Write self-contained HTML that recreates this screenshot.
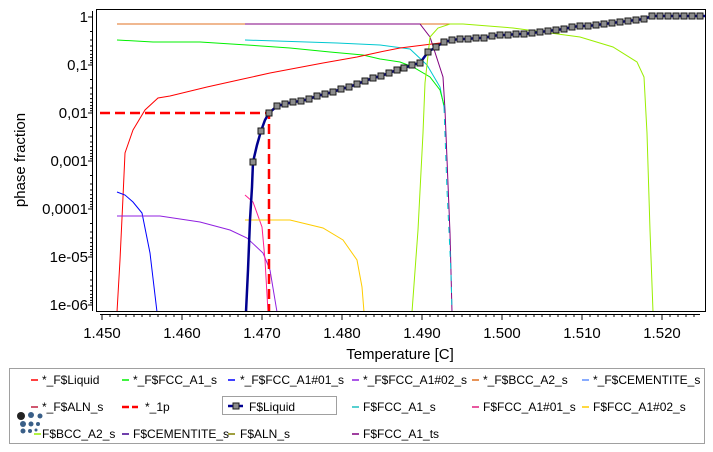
<!DOCTYPE html>
<html><head><meta charset="utf-8"><style>
body{margin:0;background:#fff;width:713px;height:452px;overflow:hidden}
svg{display:block;font-family:"Liberation Sans","DejaVu Sans",sans-serif}
</style></head><body>
<svg width="713" height="452" viewBox="0 0 713 452" xmlns="http://www.w3.org/2000/svg">
<rect x="96.5" y="9.5" width="609" height="302" fill="#fff" stroke="#000"/>
<g stroke="#000" fill="none">
<line x1="92.5" y1="11" x2="92.5" y2="311"/>
<path d="M88 17H93M88 65H93M88 113H93M88 161H93M88 209H93M88 257H93M88 305H93"/>
<path d="M90 31.5H93M90 40H93M90 46H93M90 50.6H93M90 54.4H93M90 57.6H93M90 60.4H93M90 62.8H93
M90 79.5H93M90 88H93M90 94H93M90 98.6H93M90 102.4H93M90 105.6H93M90 108.4H93M90 110.8H93
M90 127.5H93M90 136H93M90 142H93M90 146.6H93M90 150.4H93M90 153.6H93M90 156.4H93M90 158.8H93
M90 175.5H93M90 184H93M90 190H93M90 194.6H93M90 198.4H93M90 201.6H93M90 204.4H93M90 206.8H93
M90 223.5H93M90 232H93M90 238H93M90 242.6H93M90 246.4H93M90 249.6H93M90 252.4H93M90 254.8H93
M90 271.5H93M90 280H93M90 286H93M90 290.6H93M90 294.4H93M90 297.6H93M90 300.4H93M90 302.8H93"/>
<line x1="100" y1="314.5" x2="700" y2="314.5"/>
<path d="M102 314V320M182 314V320M262 314V320M342 314V320M422 314V320M502 314V320M582 314V320M662 314V320"/>
<path d="M110 314V317M118 314V317M126 314V317M134 314V317M142 314V317M150 314V317M158 314V317M166 314V317M174 314V317
M190 314V317M198 314V317M206 314V317M214 314V317M222 314V317M230 314V317M238 314V317M246 314V317M254 314V317
M270 314V317M278 314V317M286 314V317M294 314V317M302 314V317M310 314V317M318 314V317M326 314V317M334 314V317
M350 314V317M358 314V317M366 314V317M374 314V317M382 314V317M390 314V317M398 314V317M406 314V317M414 314V317
M430 314V317M438 314V317M446 314V317M454 314V317M462 314V317M470 314V317M478 314V317M486 314V317M494 314V317
M510 314V317M518 314V317M526 314V317M534 314V317M542 314V317M550 314V317M558 314V317M566 314V317M574 314V317
M590 314V317M598 314V317M606 314V317M614 314V317M622 314V317M630 314V317M638 314V317M646 314V317M654 314V317
M670 314V317M678 314V317M686 314V317M694 314V317"/>
</g>
<g font-size="15" fill="#000" text-anchor="end">
<text x="88" y="22">1</text><text x="88" y="70">0,1</text><text x="88" y="118">0,01</text>
<text x="88" y="166">0,001</text><text x="88" y="214">0,0001</text><text x="88" y="262">1e-05</text><text x="88" y="310">1e-06</text>
</g>
<g font-size="15" fill="#000" text-anchor="middle">
<text x="102" y="338">1.450</text><text x="182" y="338">1.460</text><text x="262" y="338">1.470</text><text x="342" y="338">1.480</text>
<text x="422" y="338">1.490</text><text x="502" y="338">1.500</text><text x="582" y="338">1.510</text><text x="662" y="338">1.520</text>
<text x="400" y="359">Temperature [C]</text>
<text transform="translate(25,160) rotate(-90)">phase fraction</text>
</g>
<svg x="97" y="10" width="608" height="301" viewBox="97 10 608 301" overflow="hidden">
<g fill="none" stroke-width="1">
<polyline stroke="#e07020" points="117,24 451,24"/>
<polyline stroke="#800080" points="245,24 420,24 430,37 443,77 445,110 450,233 452,312"/>
<polyline stroke="#00c8d0" points="245,40 337,43 380,45 410,49 427,65 440,87 444,107"/>
<polyline stroke="#00c8d0" points="444,107 447,190 451,273 452,312" stroke-dasharray="6,6"/>
<polyline stroke="#00f000" points="117,40 153,42 200,42 247,45 290,48 330,52 363,55 380,59 400,62 413,67 430,77 440,90 444,105"/>
<polyline stroke="#ff0000" points="117,312 120,260 123,197 125,153 133,130 145,110 158,98 170,96 207,87 243,79 270,73 323,63 357,57 380,52 400,48 440,43 446,42"/>
<polyline stroke="#99ee00" points="412,312 418,230 423,133 425,83 430,37 438,28 450,24 463,24 513,28 580,37 613,47 637,62 644,77 647,133 650,230 653,312"/>
<polyline stroke="#0000ff" points="117,192 125,195 133,202 142,213 150,253 157,312"/>
<polyline stroke="#9020e0" points="117,216 160,216 200,222 230,230 247,238 263,253 270,270 277,312"/>
<polyline stroke="#ff2090" points="245,195 253,202 262,227 265,260 268,312"/>
<polyline stroke="#ffcc00" points="245,220 290,220 323,228 343,240 357,260 362,287 364,312"/>
<polyline stroke="#000090" stroke-width="2.5" points="246,312 248,270 250,220 252,187 253,162 257,145 261,131 265,120 269,113 277,106 285,104 293,102 301,101 309,99 317,96 325,94 333,92 341,89 349,87 357,84 365,81 373,78 381,76 389,73 397,70 404,68 412,65 420,63 428,52 436,47 444,42 452,40 460,39 468,39 476,38 484,38 492,36 500,35 508,35 516,34 524,34 532,33 540,32 548,31 556,30 564,29 572,27 580,26 588,26 596,25 604,24 612,23 620,22 628,21 636,20 644,19 652,16 705,16"/>
<polyline stroke="#ff0000" stroke-width="2.5" stroke-dasharray="10,5" points="100,113 269,113 269,312"/>
</g>
<g fill="#8c8c8c" stroke="#1a1a1a" stroke-width="1">
<rect x="250" y="159" width="6" height="6"/><rect x="258" y="128" width="6" height="6"/><rect x="266" y="110" width="6" height="6"/>
<rect x="274" y="103" width="6" height="6"/><rect x="282" y="101" width="6" height="6"/><rect x="290" y="99" width="6" height="6"/>
<rect x="298" y="98" width="6" height="6"/><rect x="306" y="96" width="6" height="6"/><rect x="314" y="93" width="6" height="6"/>
<rect x="322" y="91" width="6" height="6"/><rect x="330" y="89" width="6" height="6"/><rect x="338" y="86" width="6" height="6"/>
<rect x="346" y="84" width="6" height="6"/><rect x="354" y="81" width="6" height="6"/><rect x="362" y="78" width="6" height="6"/>
<rect x="370" y="75" width="6" height="6"/><rect x="378" y="73" width="6" height="6"/><rect x="386" y="70" width="6" height="6"/>
<rect x="394" y="67" width="6" height="6"/><rect x="401" y="65" width="6" height="6"/><rect x="409" y="62" width="6" height="6"/>
<rect x="417" y="60" width="6" height="6"/><rect x="425" y="49" width="6" height="6"/><rect x="433" y="44" width="6" height="6"/>
<rect x="441" y="39" width="6" height="6"/><rect x="449" y="37" width="6" height="6"/><rect x="457" y="36" width="6" height="6"/>
<rect x="465" y="36" width="6" height="6"/><rect x="473" y="35" width="6" height="6"/><rect x="481" y="35" width="6" height="6"/>
<rect x="489" y="33" width="6" height="6"/><rect x="497" y="32" width="6" height="6"/><rect x="505" y="32" width="6" height="6"/>
<rect x="513" y="31" width="6" height="6"/><rect x="521" y="31" width="6" height="6"/><rect x="529" y="30" width="6" height="6"/>
<rect x="537" y="29" width="6" height="6"/><rect x="545" y="28" width="6" height="6"/><rect x="553" y="27" width="6" height="6"/>
<rect x="561" y="26" width="6" height="6"/><rect x="569" y="24" width="6" height="6"/><rect x="577" y="23" width="6" height="6"/>
<rect x="585" y="23" width="6" height="6"/><rect x="593" y="22" width="6" height="6"/><rect x="601" y="21" width="6" height="6"/>
<rect x="609" y="20" width="6" height="6"/><rect x="617" y="19" width="6" height="6"/><rect x="625" y="18" width="6" height="6"/>
<rect x="633" y="17" width="6" height="6"/><rect x="641" y="16" width="6" height="6"/><rect x="649" y="13" width="6" height="6"/>
<rect x="657" y="13" width="6" height="6"/><rect x="665" y="13" width="6" height="6"/><rect x="673" y="13" width="6" height="6"/>
<rect x="681" y="13" width="6" height="6"/><rect x="689" y="13" width="6" height="6"/><rect x="697" y="13" width="6" height="6"/>
</g>
</svg>
<rect x="9.5" y="368.5" width="695" height="75" fill="#fff" stroke="#a0a0a0"/>
<rect x="222.5" y="396.5" width="114" height="18" fill="#fff" stroke="#a0a0a0"/>
<g stroke-width="1.5">
<line x1="31" y1="380" x2="38" y2="380" stroke="#ff0000"/>
<line x1="122" y1="380" x2="129" y2="380" stroke="#00f000"/>
<line x1="228" y1="380" x2="235" y2="380" stroke="#0000ff"/>
<line x1="352" y1="380" x2="359" y2="380" stroke="#9020e0"/>
<line x1="472" y1="380" x2="479" y2="380" stroke="#e07020"/>
<line x1="582" y1="380" x2="589" y2="380" stroke="#6090ff"/>
<line x1="31" y1="407" x2="38" y2="407" stroke="#c02040"/>
<line x1="122" y1="407" x2="138" y2="407" stroke="#ff0000" stroke-width="2.5" stroke-dasharray="7,3"/>
<line x1="228" y1="406" x2="243" y2="406" stroke="#000090" stroke-width="2.5"/>
<line x1="352" y1="407" x2="359" y2="407" stroke="#20c0c0"/>
<line x1="472" y1="407" x2="479" y2="407" stroke="#e02080"/>
<line x1="582" y1="407" x2="589" y2="407" stroke="#ffcc00"/>
<line x1="34" y1="434" x2="41" y2="434" stroke="#99ee00"/>
<line x1="122" y1="434" x2="129" y2="434" stroke="#400090"/>
<line x1="228" y1="434" x2="235" y2="434" stroke="#808000"/>
<line x1="352" y1="434" x2="359" y2="434" stroke="#800080"/>
</g>
<rect x="233" y="403" width="6" height="6" fill="#8c8c8c" stroke="#1a1a1a"/>
<g font-size="12" fill="#000">
<text x="42" y="384">*_F$Liquid</text><text x="133" y="384">*_F$FCC_A1_s</text><text x="240" y="384">*_F$FCC_A1#01_s</text>
<text x="363" y="384">*_F$FCC_A1#02_s</text><text x="483" y="384">*_F$BCC_A2_s</text><text x="593" y="384">*_F$CEMENTITE_s</text>
<text x="42" y="411">*_F$ALN_s</text><text x="145" y="411">*_1p</text><text x="249" y="411">F$Liquid</text>
<text x="363" y="411">F$FCC_A1_s</text><text x="483" y="411">F$FCC_A1#01_s</text><text x="593" y="411">F$FCC_A1#02_s</text>
<text x="42" y="438">F$BCC_A2_s</text><text x="133" y="438">F$CEMENTITE_s</text><text x="240" y="438">F$ALN_s</text>
<text x="363" y="438">F$FCC_A1_ts</text>
</g>
<g fill="#3a5f88">
<circle cx="21" cy="416" r="4" fill="#222"/><circle cx="31" cy="415" r="3"/><circle cx="40" cy="416" r="2.5"/>
<circle cx="23" cy="424" r="3"/><circle cx="31" cy="424" r="2.5"/><circle cx="38" cy="424" r="2"/>
<circle cx="23" cy="431" r="2.5"/><circle cx="30" cy="431" r="2"/><circle cx="36" cy="430" r="1.5"/>
</g>
</svg>
</body></html>
